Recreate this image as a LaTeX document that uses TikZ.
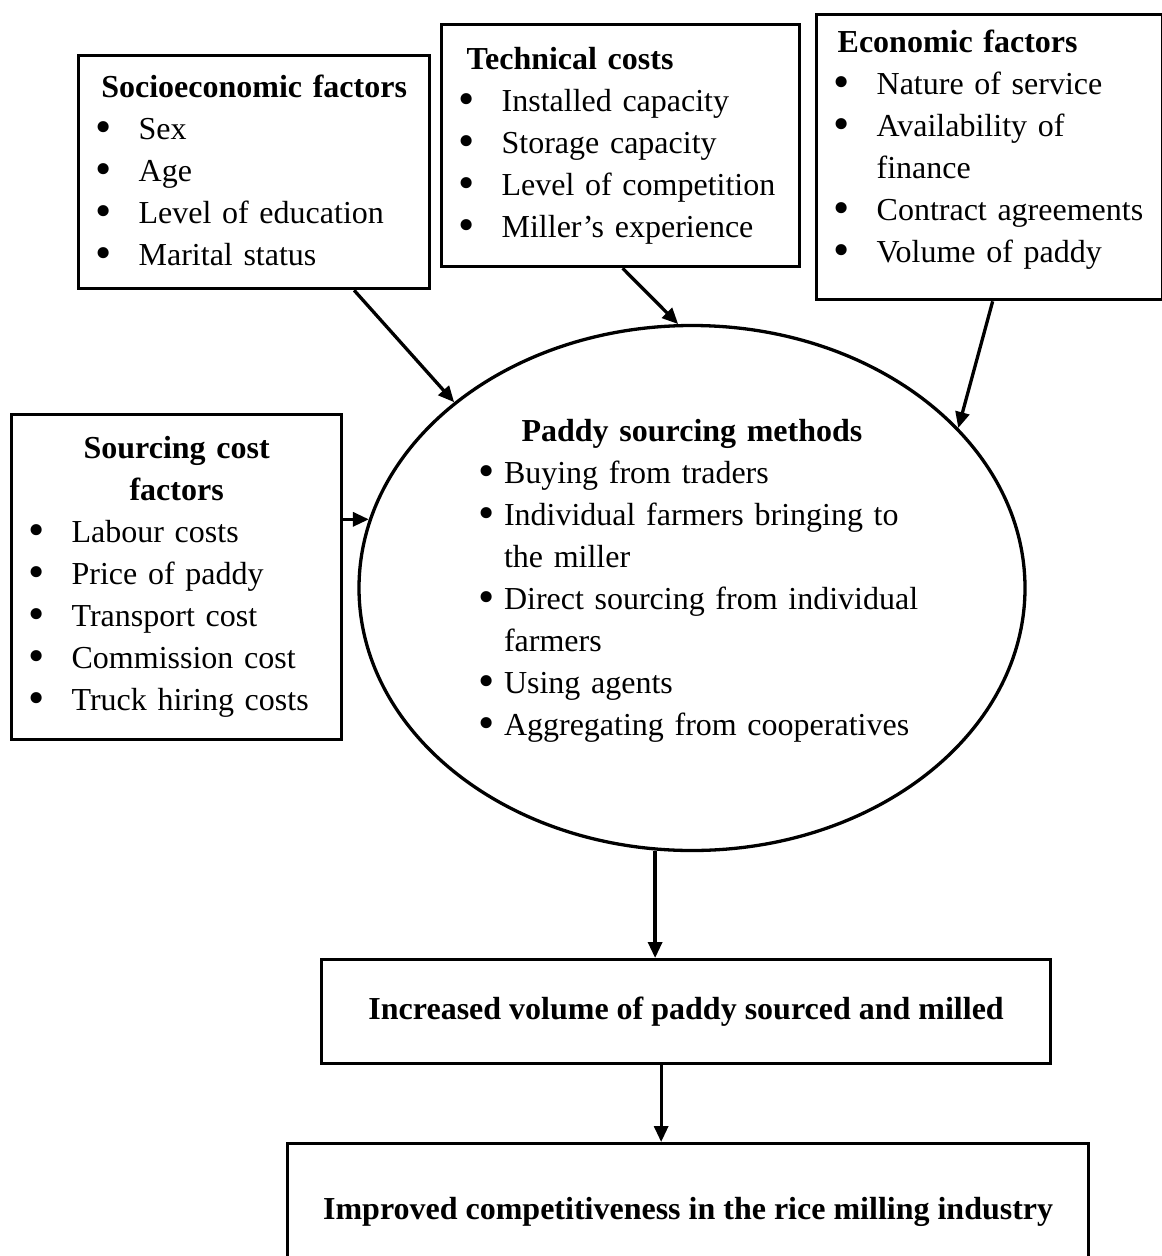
\documentclass[tikz,border=0pt]{standalone}
\usepackage{fontspec}
\usepackage{graphicx}
\setmainfont{Liberation Serif}
\usetikzlibrary{arrows.meta,shapes.geometric}

\newcommand{\bul}{\raisebox{-3pt}{\scalebox{1.45}{\textbullet}}}
\newcommand{\itm}[1]{\makebox[43pt][l]{\bul}#1}
\newcommand{\itmb}[1]{\mbox{\makebox[26pt][l]{\bul}#1}}

\begin{document}
\begin{tikzpicture}[x=1pt, y=-1pt,
    >={Triangle[length=16pt, width=14pt]}, line width=3.3pt,
    box/.style={draw, anchor=north west, inner xsep=17pt, inner ysep=0pt,
      align=left, font=\fontsize{32}{42}\selectfont},
    outcome/.style={draw, anchor=north west, inner sep=0pt,
      font=\fontsize{32}{42}\selectfont\bfseries},
    method/.style={draw, ellipse, inner sep=0pt, text width=428pt,
      align=left, font=\fontsize{32}{42}\selectfont}]
  \useasboundingbox (0,0) rectangle (1162,1256);
  % factor boxes along the top and left
  \node[box, minimum width=351pt, minimum height=233pt, text width=317pt] (socio) at (77,54)
    {\makebox[317pt]{\textbf{Socioeconomic factors}}\\
     \itm{Sex}\\ \itm{Age}\\ \itm{Level of education}\\ \itm{Marital status}};
  \node[box, minimum width=358pt, minimum height=242pt, text width=324pt] (tech) at (440,23)
    {\hspace*{8pt}\textbf{Technical costs}\\
     \itm{Installed capacity}\\ \itm{Storage capacity}\\
     \itm{Level of competition}\\ \itm{Miller’s experience}};
  \node[box, minimum width=346pt, minimum height=285pt, text width=312pt] (econ) at (815,13)
    {\hspace*{4pt}\textbf{Economic factors}\\
     \itm{Nature of service}\\ \itm{Availability of}\\ \hspace*{43pt}finance\\
     \itm{Contract agreements}\\ \itm{Volume of paddy}\rule[-22pt]{0pt}{0pt}};
  \node[box, minimum width=330pt, minimum height=325pt, text width=296pt] (cost) at (10,413)
    {\makebox[296pt]{\textbf{Sourcing cost}}\\ \makebox[296pt]{\textbf{factors}}\\
     \itm{Labour costs}\\ \itm{Price of paddy}\\ \itm{Transport cost}\\
     \itm{Commission cost}\\ \itm{Truck hiring costs}};
  % central ellipse
  \node[method, minimum width=666pt, minimum height=525pt] (meth) at (692,588)
    {\makebox[428pt]{\textbf{Paddy sourcing methods}}\\
     \itmb{Buying from traders}\\
     \itmb{\makebox[402pt][s]{Individual farmers bringing to}}\\
     \hspace*{26pt}the miller\\
     \itmb{Direct sourcing from individual}\\
     \hspace*{26pt}farmers\\
     \itmb{Using agents}\\
     \itmb{Aggregating from cooperatives}\rule[-21pt]{0pt}{0pt}};
  % outcomes (the last box runs off the bottom edge)
  \node[outcome, minimum width=729pt, minimum height=104pt] (incr) at (320,958)
    {Increased volume of paddy sourced and milled};
  \node[outcome, minimum width=801pt, minimum height=150pt] (impr) at (286,1142)
    {Improved competitiveness in the rice milling industry\rule[-20pt]{0pt}{0pt}};
  \draw[->] ([xshift=100pt]socio.south) -- (meth.142);
  \draw[->] ([xshift=2pt]tech.south) -- (meth.93);
  \draw[->] ([xshift=3pt]econ.south) -- (meth.31);
  \draw[->] (cost.east |- meth.168.6) -- (meth.168.6);
  \draw[->] (meth.262) -- (meth.262 |- incr.north);
  \draw[->] ([xshift=-25pt]incr.south) -- ([xshift=-27pt]impr.north);
\end{tikzpicture}
\end{document}
